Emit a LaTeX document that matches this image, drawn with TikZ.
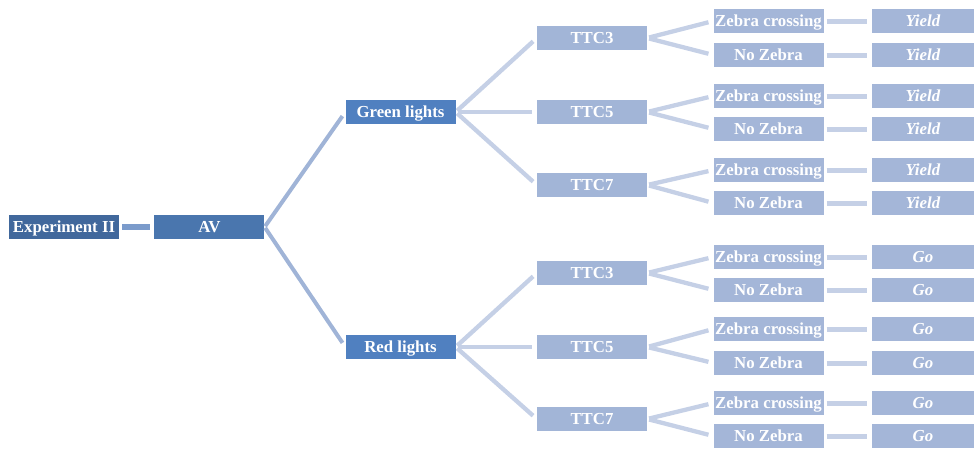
\documentclass[tikz,border=0pt]{standalone}
\usepackage{fontspec}
\setmainfont{Liberation Serif}
\usepackage{xcolor}
\usepackage{tikz}
\usetikzlibrary{positioning}
\definecolor{expblue}{RGB}{65,104,156}
\definecolor{avblue}{RGB}{74,118,174}
\definecolor{lightsblue}{RGB}{80,128,192}
\definecolor{ttcblue}{RGB}{162,181,215}
\definecolor{leafblue}{RGB}{164,182,216}
\definecolor{linkdark}{RGB}{123,155,203}
\definecolor{linkmid}{RGB}{160,180,215}
\definecolor{linklight}{RGB}{197,208,230}
\tikzset{
  basebox/.style={inner sep=0pt, minimum width=110pt, minimum height=24.5pt,
    text height=13pt, text depth=3pt,
    text=white, font=\fontsize{16.8}{18}\selectfont\bfseries, align=center},
  expbox/.style={basebox, fill=expblue},
  avbox/.style={basebox, fill=avblue},
  lightbox/.style={basebox, fill=lightsblue},
  ttcbox/.style={basebox, fill=ttcblue},
  zebrabox/.style={basebox, fill=leafblue},
  decibox/.style={basebox, fill=leafblue, minimum width=102pt,
    font=\fontsize{16.8}{18}\selectfont\bfseries\itshape},
  trunk/.style={linkdark, line width=6pt, shorten <=3pt, shorten >=4pt},
  branch/.style={linkmid, line width=4pt, shorten <=1pt, shorten >=5pt},
  twig/.style={linklight, line width=4.3pt, shorten <=2pt, shorten >=5pt},
  leaf/.style={linklight, line width=5pt, shorten <=3pt, shorten >=5pt}
}

\begin{document}
\begin{tikzpicture}[x=1pt, y=-1pt]
\useasboundingbox (0,0) rectangle (974,448);

\node[expbox] (exp) at (64,227) {Experiment II};
\node[avbox, right=35pt of exp] (av) {AV};

\node[lightbox] (green) at (400.5,112) {Green lights};
\node[lightbox] (red) at (400.5,347) {Red lights};

% TTC levels
\node[ttcbox] (g3) at (592,38) {TTC3};
\node[ttcbox] (g5) at (592,112) {TTC5};
\node[ttcbox] (g7) at (592,185) {TTC7};
\node[ttcbox] (r3) at (592,273) {TTC3};
\node[ttcbox] (r5) at (592,347) {TTC5};
\node[ttcbox] (r7) at (592,419) {TTC7};

% crossings
\node[zebrabox] (g3z) at (768.5,21) {Zebra crossing};
\node[zebrabox] (g3n) at (768.5,55) {No Zebra};
\node[zebrabox] (g5z) at (768.5,96) {Zebra crossing};
\node[zebrabox] (g5n) at (768.5,129) {No Zebra};
\node[zebrabox] (g7z) at (768.5,170) {Zebra crossing};
\node[zebrabox] (g7n) at (768.5,203) {No Zebra};
\node[zebrabox] (r3z) at (768.5,257) {Zebra crossing};
\node[zebrabox] (r3n) at (768.5,290) {No Zebra};
\node[zebrabox] (r5z) at (768.5,329) {Zebra crossing};
\node[zebrabox] (r5n) at (768.5,363) {No Zebra};
\node[zebrabox] (r7z) at (768.5,403) {Zebra crossing};
\node[zebrabox] (r7n) at (768.5,436) {No Zebra};

% decisions
\node[decibox, right=48pt of g3z] (g3zd) {Yield};
\node[decibox, right=48pt of g3n] (g3nd) {Yield};
\node[decibox, right=48pt of g5z] (g5zd) {Yield};
\node[decibox, right=48pt of g5n] (g5nd) {Yield};
\node[decibox, right=48pt of g7z] (g7zd) {Yield};
\node[decibox, right=48pt of g7n] (g7nd) {Yield};
\node[decibox, right=48pt of r3z] (r3zd) {Go};
\node[decibox, right=48pt of r3n] (r3nd) {Go};
\node[decibox, right=48pt of r5z] (r5zd) {Go};
\node[decibox, right=48pt of r5n] (r5nd) {Go};
\node[decibox, right=48pt of r7z] (r7zd) {Go};
\node[decibox, right=48pt of r7n] (r7nd) {Go};

\draw[trunk] (exp)--(av);
\draw[branch] (av.east)--(green.west);
\draw[branch] (av.east)--(red.west);

\draw[twig] (green.east)--(g3.west);
\draw[twig] (green.east)--(g5.west);
\draw[twig] (green.east)--(g7.west);
\draw[twig] (red.east)--(r3.west);
\draw[twig] (red.east)--(r5.west);
\draw[twig] (red.east)--(r7.west);

\draw[twig] (g3.east)--(g3z.west);
\draw[twig] (g3.east)--(g3n.west);
\draw[twig] (g5.east)--(g5z.west);
\draw[twig] (g5.east)--(g5n.west);
\draw[twig] (g7.east)--(g7z.west);
\draw[twig] (g7.east)--(g7n.west);
\draw[twig] (r3.east)--(r3z.west);
\draw[twig] (r3.east)--(r3n.west);
\draw[twig] (r5.east)--(r5z.west);
\draw[twig] (r5.east)--(r5n.west);
\draw[twig] (r7.east)--(r7z.west);
\draw[twig] (r7.east)--(r7n.west);

\draw[leaf] (g3z)--(g3zd);
\draw[leaf] (g3n)--(g3nd);
\draw[leaf] (g5z)--(g5zd);
\draw[leaf] (g5n)--(g5nd);
\draw[leaf] (g7z)--(g7zd);
\draw[leaf] (g7n)--(g7nd);
\draw[leaf] (r3z)--(r3zd);
\draw[leaf] (r3n)--(r3nd);
\draw[leaf] (r5z)--(r5zd);
\draw[leaf] (r5n)--(r5nd);
\draw[leaf] (r7z)--(r7zd);
\draw[leaf] (r7n)--(r7nd);
\end{tikzpicture}
\end{document}
